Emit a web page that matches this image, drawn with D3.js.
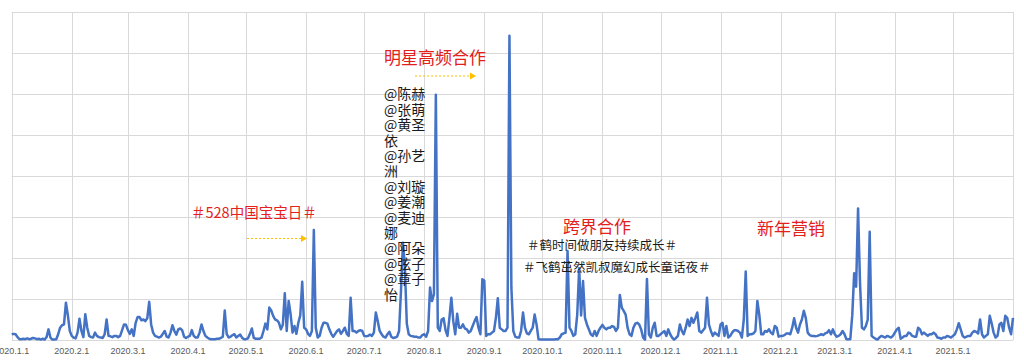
<!DOCTYPE html>
<html>
<head>
<meta charset="utf-8">
<script src="https://cdn.jsdelivr.net/npm/d3@7"></script>
<style>
  body { margin: 0; background: #fff; }
  svg { display: block; }
</style>
</head>
<body>
<script>
// Daily mentions, one array per month (Jan 2020 - Jun 1 2021)
const jan20 = [14,15,14,7,2,2,3,2,4,2,3,5,4,2,3,1,3,1,7,26,6,1,1,2,14,30,36,38,91,60,22];
const feb20 = [10,6,4,18,52,22,7,63,30,10,7,6,18,10,7,6,5,14,50,10,9,7,10,10,7,10,24,38,37];
const mar20 = [24,15,26,10,42,56,56,48,50,46,53,93,38,18,10,8,6,8,15,22,8,6,18,36,22,13,26,28,24,8,5];
const apr20 = [8,10,24,10,6,6,18,38,22,10,6,3,2,2,2,3,3,5,8,72,15,6,8,12,14,6,10,13,5,2];
const may20 = [2,4,15,28,5,3,3,3,6,22,40,26,79,72,59,50,48,42,26,38,114,22,95,63,18,34,15,42,60,142,30];
const jun20 = [26,15,10,22,268,30,6,10,30,42,42,40,26,15,8,15,22,26,15,22,30,15,10,103,22,22,18,22,24,22];
const jul20 = [10,9,10,13,10,18,67,46,22,14,8,6,14,20,8,5,6,8,22,120,237,180,40,14,10,9,8,8,6,6,12];
const aug20 = [14,8,22,128,95,111,598,30,22,50,53,24,10,54,103,46,14,64,30,30,38,28,26,18,22,34,46,56,30,14,148];
const sep20 = [145,10,14,14,18,22,54,102,30,26,22,22,30,742,127,22,8,6,6,22,67,30,16,14,22,30,62,38,2,1];
const oct20 = [1,1,1,1,1,1,1,2,2,6,14,16,18,217,30,22,10,14,62,175,60,144,54,38,26,14,10,22,10,22,30];
const nov20 = [37,30,26,30,30,34,32,22,30,110,79,71,62,30,14,10,30,40,42,38,26,6,1,149,14,6,30,42,10,10];
const dec20 = [14,18,22,10,26,14,6,1,5,10,38,22,14,30,50,34,54,42,54,67,22,18,24,30,103,38,22,10,18,14,10];
const jan21 = [38,42,10,34,6,10,18,24,24,22,18,6,50,167,10,14,14,16,22,95,62,14,14,22,20,26,18,14,34,30,8];
const feb21 = [10,10,12,16,16,14,30,53,30,18,38,50,71,54,18,12,10,10,9,10,12,14,12,16,18,24,14,26];
const mar21 = [14,8,10,14,22,14,2,2,2,60,163,130,321,140,30,26,34,50,264,10,6,3,1,6,10,8,6,10,8,6,10];
const apr21 = [18,26,30,3,6,10,10,18,16,10,8,8,30,26,14,18,14,10,14,14,18,14,6,5,3,6,6,10,8,6];
const may21 = [10,14,26,41,26,10,6,8,10,10,18,22,20,16,50,14,6,10,14,59,40,18,6,10,38,42,22,59,54,30,14];
const jun21 = [54];

const months = [jan20, feb20, mar20, apr20, may20, jun20, jul20, aug20, sep20, oct20, nov20, dec20,
                jan21, feb21, mar21, apr21, may21, jun21];

const yTicks = [0, 100, 200, 300, 400, 500, 600, 700, 800];
const tickFormat = d3.utcFormat("%Y.%-m.%-d");

// flatten months into daily points
const data = [];
months.forEach((arr, m) => {
    arr.forEach((v, i) => data.push({ date: new Date(Date.UTC(2020, m, i + 1)), value: v }));
});

const width = 1024, height = 361;
const svg = d3.select("body").append("svg")
    .attr("width", width)
    .attr("height", height);

const x = d3.scaleUtc()
    .domain([new Date(Date.UTC(2020, 0, 1)), new Date(Date.UTC(2021, 5, 1))])
    .range([11.7, 1013]);

const y = d3.scaleLinear()
    .domain([0, 800])
    .range([340, 12]);

const monthTicks = d3.utcMonth.range(x.domain()[0], d3.utcDay.offset(x.domain()[1], 1));

// grid
svg.append("g").selectAll("line")
    .data(yTicks)
    .join("line")
    .attr("x1", x.range()[0]).attr("x2", x.range()[1])
    .attr("y1", d => Math.round(y(d)) + 0.5).attr("y2", d => Math.round(y(d)) + 0.5)
    .attr("stroke", "#d9d9d9")
    .attr("stroke-width", 1);

svg.append("g").selectAll("line")
    .data(monthTicks)
    .join("line")
    .attr("x1", d => Math.round(x(d)) + 0.5).attr("x2", d => Math.round(x(d)) + 0.5)
    .attr("y1", y(800)).attr("y2", y(0))
    .attr("stroke", "#d9d9d9")
    .attr("stroke-width", 1);

// x labels (no label on the closing 2021.6.1 gridline)
svg.append("g").selectAll("text")
    .data(monthTicks.slice(0, -1))
    .join("text")
    .attr("x", d => x(d))
    .attr("y", 353.5)
    .attr("text-anchor", "middle")
    .style("font-family", "'Liberation Sans', Arial, sans-serif")
    .style("font-size", "9px")
    .style("fill", "#595959")
    .text(d => tickFormat(d));

// the series
const line = d3.line()
    .x(d => x(d.date))
    .y(d => y(d.value));

svg.append("path")
    .datum(data)
    .attr("d", line)
    .attr("fill", "none")
    .attr("stroke", "#4472c4")
    .attr("stroke-width", 2.5)
    .attr("stroke-linejoin", "round");

// annotations
const cjk = "'Noto Sans CJK SC', sans-serif";

function label(tx, ty, txt, size, color) {
    return svg.append("text")
        .attr("x", tx).attr("y", ty)
        .attr("dominant-baseline", "central")
        .style("font-family", cjk)
        .style("font-size", size + "px")
        .style("fill", color)
        .text(txt);
}

function arrow(x1, x2, ay) {
    svg.append("line")
        .attr("x1", x1).attr("x2", x2 - 5)
        .attr("y1", ay).attr("y2", ay)
        .attr("stroke", "#ffc000")
        .attr("stroke-width", 1)
        .attr("stroke-dasharray", "2,2");
    svg.append("path")
        .attr("d", `M${x2 - 6},${ay - 3.5}L${x2},${ay}L${x2 - 6},${ay + 3.5}Z`)
        .attr("fill", "#ffc000");
}

label(191, 211.5, "＃528中国宝宝日＃", 14.5, "#e3201c");
arrow(247, 307, 238.5);

label(384, 56.5, "明星高频合作", 17, "#e3201c");
arrow(415, 476, 76);

// stacked star names, one text block with a line per tspan
const stars = ["@陈赫", "@张萌", "@黄圣", "依", "@孙艺", "洲", "@刘璇", "@姜潮", "@麦迪", "娜",
               "@阿朵", "@弦子", "@章子", "怡"];
svg.append("text")
    .attr("dominant-baseline", "central")
    .style("font-family", cjk)
    .style("font-size", "14px")
    .style("fill", "#1a1a1a")
  .selectAll("tspan")
    .data(stars)
    .join("tspan")
    .attr("x", 384)
    .attr("y", (d, i) => 93.3 + i * 15.4)
    .text(d => d);

label(563, 225.5, "跨界合作", 17, "#e3201c");
label(527, 244.5, "＃鹤时间做朋友持续成长＃", 12.5, "#1a1a1a");
label(523, 266, "＃飞鹤茁然凯叔魔幻成长童话夜＃", 12.5, "#1a1a1a");

label(757, 227.5, "新年营销", 17, "#e3201c");
</script>
</body>
</html>
